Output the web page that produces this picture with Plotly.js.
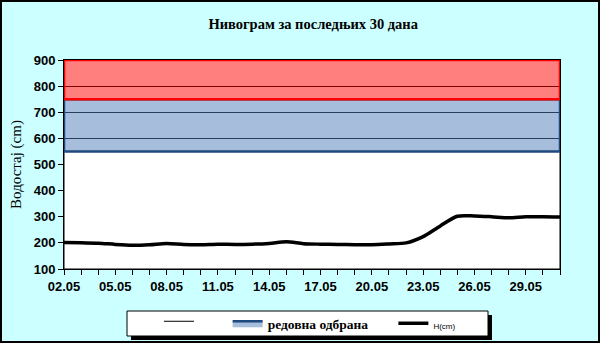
<!DOCTYPE html>
<html>
<head>
<meta charset="utf-8">
<script src="https://cdn.plot.ly/plotly-3.0.1.min.js"></script>
<style>
html,body{margin:0;padding:0;background:#CCFFFF;}
#chart{width:600px;height:343px;}
</style>
</head>
<body>
<div id="chart"></div>
<script>
// ---- data ----
const dates = ["02.05","03.05","04.05","05.05","06.05","07.05","08.05","09.05","10.05","11.05",
               "12.05","13.05","14.05","15.05","16.05","17.05","18.05","19.05","20.05","21.05",
               "22.05","23.05","24.05","25.05","26.05","27.05","28.05","29.05","30.05","31.05"];
const levelH = [201,200,199,194,191,193,198,194,193,195,
                194,195,198,204,197,195,194,193,193,196,
                200,224,265,302,303,300,296,300,300,299];
const axisMin = 100;
const normalLimit = 550;     // lower bound of "редовна одбрана"
const regularLimit = 750;    // upper bound of "редовна одбрана"
const emergencyLimit = 900;  // upper bound of red zone
const yTicks = [100,200,300,400,500,600,700,800,900];
const labelEvery = 3;

const first = dates[0], last = dates[dates.length-1];
const tickText = dates.map((d,i)=> i % labelEvery === 0 && i < dates.length-1 ? d : "");

function bandPolygon(lo, hi){
  return {x:[first,last,last,first,first], y:[lo,lo,hi,hi,lo]};
}

const lowBand = bandPolygon(axisMin, normalLimit);
const whiteBand = {
  x: lowBand.x, y: lowBand.y, type:'scatter', mode:'lines', fill:'toself',
  fillcolor:'#FFFFFF', line:{color:'#000000', width:1},
  name:'\u00a0\u00a0\u00a0\u00a0\u00a0\u00a0\u00a0', hoverinfo:'skip'
};
const regBand = bandPolygon(normalLimit, regularLimit);
const blueBand = {
  x: regBand.x, y: regBand.y, type:'scatter', mode:'lines', fill:'toself',
  fillcolor:'rgba(78,124,184,0.5)', line:{color:'#1F4A7E', width:2.5},
  name:'<b>редовна одбрана</b>\u00a0\u00a0\u00a0\u00a0\u00a0\u00a0', hoverinfo:'skip'
};
const emBand = bandPolygon(regularLimit, emergencyLimit);
const redBand = {
  x: emBand.x, y: emBand.y, type:'scatter', mode:'lines', fill:'toself',
  fillcolor:'rgba(255,0,0,0.5)', line:{color:'#FF0000', width:2.5},
  name:'ванредна одбрана', showlegend:false, hoverinfo:'skip'
};
const levelTrace = {
  x: dates, y: levelH, type:'scatter', mode:'lines',
  line:{color:'#000000', width:3.5, shape:'spline', smoothing:0.8},
  name:'<span style="font-family:Arial;font-size:8px">H(cm)</span>'
};

const L=64, R=40, T=60, B=74, W=600-L-R, H=343-T-B;
const px = v => (v-L)/W;
const py = v => (343-B-v)/H;

const layout = {
  width:600, height:343,
  margin:{l:L, r:R, t:T, b:B, pad:0, autoexpand:false},
  paper_bgcolor:'#CCFFFF', plot_bgcolor:'#FFFFFF',
  font:{family:'Liberation Serif', color:'#000000'},
  title:{text:'<b>Нивограм за последњих 30 дана</b>', font:{family:'Liberation Serif', size:14.5, color:'#000'},
         x:0.522, xanchor:'center', y:0.93, yanchor:'middle'},
  xaxis:{type:'category', categoryorder:'array', categoryarray:dates, range:[0, dates.length-1],
         tickmode:'array', tickvals:dates, ticktext:tickText,
         ticks:'outside', ticklen:5, tickcolor:'#000', tickwidth:1,
         showline:true, linecolor:'#000', linewidth:1, mirror:true,
         showgrid:false, zeroline:false,
         tickfont:{family:'Arial', size:13, color:'#000', weight:'bold'}, tickangle:0},
  yaxis:{range:[axisMin, emergencyLimit], tickmode:'array', tickvals:yTicks,
         ticks:'outside', ticklen:5, tickcolor:'#000',
         showline:true, linecolor:'#000', linewidth:1, mirror:true,
         showgrid:true, gridcolor:'#000000', gridwidth:1, zeroline:false,
         tickfont:{family:'Arial', size:13, color:'#000', weight:'bold'},
         title:{text:'Водостај (cm)', font:{family:'Liberation Serif', size:15, color:'#000'}, standoff:8}},
  showlegend:true,
  legend:{orientation:'h', x:px(159), xanchor:'left', y:py(308), yanchor:'top',
          bgcolor:'rgba(0,0,0,0)', borderwidth:0,
          font:{family:'Liberation Serif', size:13.5, color:'#000'},
          itemwidth:30, tracegroupgap:0},
  shapes:[
    {type:'rect', xref:'paper', yref:'paper', x0:px(131), x1:px(492), y0:py(340), y1:py(315),
     fillcolor:'#000', line:{width:0}, layer:'above'},
    {type:'rect', xref:'paper', yref:'paper', x0:px(127), x1:px(488), y0:py(336), y1:py(311),
     fillcolor:'#FFF', line:{color:'#000', width:1}, layer:'above'},
    {type:'rect', xref:'paper', yref:'paper', x0:px(0), x1:px(600), y0:py(343), y1:py(0),
     fillcolor:'rgba(0,0,0,0)', line:{color:'#000', width:4}, layer:'above'}
  ]
};

Plotly.newPlot('chart', [whiteBand, blueBand, redBand, levelTrace], layout, {staticPlot:true, displayModeBar:false});
</script>
</body>
</html>
